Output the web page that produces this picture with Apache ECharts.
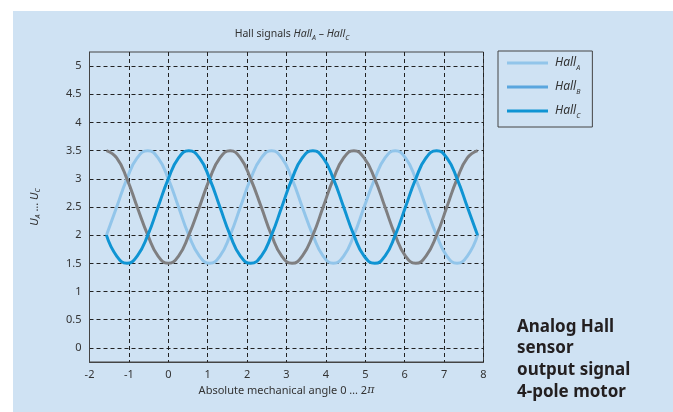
<!DOCTYPE html>
<html>
<head>
<meta charset="utf-8">
<script src="https://cdn.jsdelivr.net/npm/echarts@6/dist/echarts.min.js"></script>
<style>
    body { margin: 0; background: #fff; }
    #panel { position: absolute; left: 13px; top: 11px; width: 660px; height: 401px; background: #cfe2f3; }
    #chart { position: absolute; left: 0; top: 0; width: 673px; height: 412px; }
</style>
</head>
<body>
<div id="panel"></div>
<div id="chart"></div>
<script>
// mechanical angle (rad)
const angle = [-1.57, -1.31, -1.05, -0.79, -0.52, -0.26, 0, 0.26, 0.52, 0.79, 1.05, 1.31,
    1.57, 1.83, 2.09, 2.36, 2.62, 2.88, 3.14, 3.4, 3.67, 3.93, 4.19, 4.45,
    4.71, 4.97, 5.24, 5.5, 5.76, 6.02, 6.28, 6.54, 6.81, 7.07, 7.33, 7.59, 7.85]
const hallA = [2.0, 2.5, 3.0, 3.37, 3.5, 3.37, 3.0, 2.5, 2.0, 1.63, 1.5, 1.63,
    2.0, 2.5, 3.0, 3.37, 3.5, 3.37, 3.0, 2.5, 2.0, 1.63, 1.5, 1.63,
    2.0, 2.5, 3.0, 3.37, 3.5, 3.37, 3.0, 2.5, 2.0, 1.63, 1.5, 1.63, 2.0]
const hallB = [3.5, 3.37, 3.0, 2.5, 2.0, 1.63, 1.5, 1.63, 2.0, 2.5, 3.0, 3.37,
    3.5, 3.37, 3.0, 2.5, 2.0, 1.63, 1.5, 1.63, 2.0, 2.5, 3.0, 3.37,
    3.5, 3.37, 3.0, 2.5, 2.0, 1.63, 1.5, 1.63, 2.0, 2.5, 3.0, 3.37, 3.5]
const hallC = [2.0, 1.63, 1.5, 1.63, 2.0, 2.5, 3.0, 3.37, 3.5, 3.37, 3.0, 2.5,
    2.0, 1.63, 1.5, 1.63, 2.0, 2.5, 3.0, 3.37, 3.5, 3.37, 3.0, 2.5,
    2.0, 1.63, 1.5, 1.63, 2.0, 2.5, 3.0, 3.37, 3.5, 3.37, 3.0, 2.5, 2.0]
const yTicks = [0, 0.5, 1, 1.5, 2, 2.5, 3, 3.5, 4, 4.5, 5]
const seriesNames = ['HallA', 'HallB', 'HallC']
const subs = { HallA: 'A', HallB: 'B', HallC: 'C' }

const font = 'Noto Sans'
const ink = '#333'

function pairs(ys) {
    return angle.map((x, i) => [x, ys[i]])
}

let chart = echarts.init(document.getElementById('chart'))

let option = {
    animation: false,
    textStyle: { fontFamily: font },
    title: {
        text: 'Hall signals {i|Hall}{s|A} – {i|Hall}{s|C}',
        left: 287,
        textAlign: 'center',
        top: 22,
        textStyle: {
            fontSize: 10.5, fontWeight: 'normal', color: ink, fontFamily: font,
            rich: {
                i: { fontSize: 10.5, fontStyle: 'italic', fontFamily: font, color: ink },
                s: { fontSize: 7, fontStyle: 'italic', fontFamily: font, color: ink, verticalAlign: 'bottom', lineHeight: 14 }
            }
        }
    },
    legend: {
        orient: 'vertical',
        left: 498,
        top: 51,
        padding: [6, 12, 8, 9],
        borderColor: '#444',
        borderWidth: 1,
        itemWidth: 41,
        itemHeight: 3,
        itemGap: 10,
        icon: 'rect',
        data: [
            { name: 'HallA', itemStyle: { color: '#92c5ea' } },
            { name: 'HallB', itemStyle: { color: '#5aa6de' } },
            { name: 'HallC', itemStyle: { color: '#0f94d3' } }
        ],
        formatter: name => '{i|Hall}{s|' + subs[name] + '}',
        textStyle: {
            fontSize: 12, color: ink,
            rich: {
                i: { fontSize: 12, fontStyle: 'italic', fontFamily: font, color: ink, padding: [0, 0, 0, 2] },
                s: { fontSize: 7, fontStyle: 'italic', fontFamily: font, color: ink, verticalAlign: 'bottom', lineHeight: 16 }
            }
        }
    },
    grid: {
        left: 89.5,
        right: 189.5,
        top: 52,
        bottom: 50,
        show: true,
        borderColor: '#444',
        borderWidth: 1
    },
    xAxis: {
        type: 'value',
        min: -2,
        max: 8,
        interval: 1,
        name: 'Absolute mechanical angle 0 … 2{i|π}',
        nameLocation: 'middle',
        nameGap: 22,
        nameTextStyle: {
            fontSize: 11, color: ink,
            rich: { i: { fontSize: 11, fontStyle: 'italic', fontFamily: 'DejaVu Serif', color: ink } }
        },
        axisLine: { onZero: false, lineStyle: { color: '#444' } },
        axisTick: { show: false },
        axisLabel: { fontSize: 11, color: ink, margin: 7 },
        splitLine: { lineStyle: { color: '#222', type: [4, 3], width: 1 } }
    },
    yAxis: {
        type: 'value',
        min: -0.25,
        max: 5.25,
        name: '{i|U}{s|A} … {i|U}{s|C}',
        nameLocation: 'middle',
        nameRotate: 90,
        nameGap: 48,
        nameTextStyle: {
            fontSize: 11, color: ink,
            rich: {
                i: { fontSize: 11, fontStyle: 'italic', fontFamily: font, color: ink },
                s: { fontSize: 7, fontStyle: 'italic', fontFamily: font, color: ink, verticalAlign: 'bottom', lineHeight: 14 }
            }
        },
        axisLine: { show: true, onZero: false, lineStyle: { color: '#444' } },
        axisTick: { show: false, customValues: yTicks },
        axisLabel: { fontSize: 11, color: ink, margin: 8, customValues: yTicks },
        splitLine: { lineStyle: { color: '#222', type: [4, 3], width: 1 } }
    },
    series: [
        { name: 'HallA', type: 'line', data: pairs(hallA), smooth: true, symbol: 'none',
          lineStyle: { color: '#92c5ea', width: 3 }, itemStyle: { color: '#92c5ea' } },
        { name: 'HallB', type: 'line', data: pairs(hallB), smooth: true, symbol: 'none',
          lineStyle: { color: '#7f7f81', width: 3 }, itemStyle: { color: '#5aa6de' } },
        { name: 'HallC', type: 'line', data: pairs(hallC), smooth: true, symbol: 'none',
          lineStyle: { color: '#0f94d3', width: 3 }, itemStyle: { color: '#0f94d3' } }
    ],
    graphic: [
        {
            type: 'text',
            left: 517,
            top: 316,
            style: {
                text: 'Analog Hall\nsensor\noutput signal\n4-pole motor',
                font: 'bold 17px "Noto Sans"',
                lineHeight: 21.7,
                fill: '#231f20'
            }
        }
    ]
}

chart.setOption(option)
</script>
</body>
</html>
